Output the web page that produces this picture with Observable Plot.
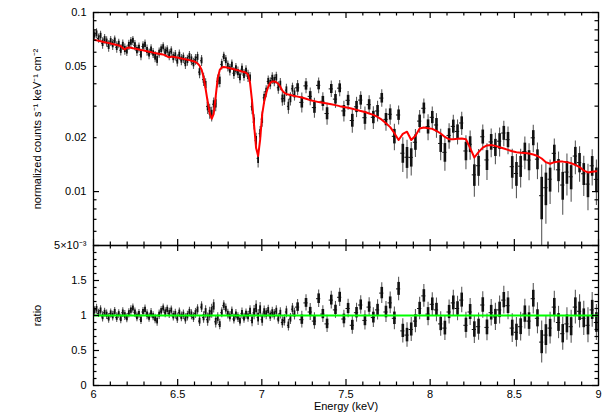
<!DOCTYPE html>
<html><head><meta charset="utf-8">
<script src="https://cdn.jsdelivr.net/npm/d3@7"></script>
<script src="https://cdn.jsdelivr.net/npm/@observablehq/plot@0.6"></script>
<style>
body{margin:0;background:#fff}
#wrap{position:relative;width:611px;height:414px}
#wrap svg{position:absolute;left:0;top:0}
</style>
</head><body><div id="wrap"></div>
<script>
// Energy grids (keV): fine bins 6.0-7.2, coarser bins 7.2-9.0
const energyA = d3.range(100).map(i => 6.006 + 0.012 * i);
const energyB = d3.range(72).map(j => 7.2125 + 0.025 * j);
const halfWidthA = 0.006, halfWidthB = 0.0125;

// Model (normalized counts s^-1 keV^-1 cm^-2)
const modelA = [0.0703,0.0699,0.0695,0.0691,0.0687,0.0683,0.0679,0.0675,0.0671,0.0667,
0.0663,0.0659,0.0655,0.0648,0.0632,0.0622,0.0634,0.0638,0.0636,0.0632,
0.0629,0.0625,0.0622,0.0618,0.0615,0.0611,0.0608,0.0604,0.0601,0.0597,
0.0594,0.0591,0.0588,0.0585,0.0582,0.0578,0.0568,0.0562,0.0566,0.0566,
0.0563,0.0560,0.0557,0.0554,0.0551,0.0548,0.0545,0.0542,0.0538,0.0534,
0.0529,0.0520,0.0505,0.0480,0.0435,0.0375,0.0318,0.0275,0.0255,0.0272,
0.0340,0.0430,0.0478,0.0493,0.0496,0.0494,0.0491,0.0488,0.0485,0.0482,
0.0479,0.0476,0.0472,0.0468,0.0465,0.0461,0.0450,0.0405,0.0320,0.0235,
0.0175,0.0158,0.0195,0.0270,0.0318,0.0355,0.0385,0.0405,0.0412,0.0412,
0.0408,0.0400,0.0385,0.0366,0.0356,0.0351,0.0348,0.0346,0.0344,0.0342];
const modelB = [0.0339,0.0335,0.0330,0.0324,0.0320,0.0316,0.0313,0.0310,0.0307,0.0304,
0.0300,0.0297,0.0294,0.0290,0.0286,0.0282,0.0278,0.0273,0.0268,0.0261,
0.0252,0.0241,0.0229,0.0212,0.0194,0.0210,0.0216,0.0194,0.0205,0.0225,
0.0228,0.0226,0.0224,0.0218,0.0211,0.0202,0.0196,0.0196,0.0197,0.0198,
0.0196,0.0175,0.0155,0.0166,0.0176,0.0181,0.0182,0.0180,0.0177,0.0174,
0.0171,0.0168,0.0166,0.0165,0.0164,0.0163,0.0161,0.0158,0.0153,0.0146,
0.0143,0.0146,0.0147,0.0147,0.0146,0.0144,0.0141,0.0137,0.0131,0.0128,
0.0129,0.0130];

// Data/model ratio
const ratioA = [1.06,1.09,1.03,1.07,0.98,1.04,1.01,0.96,1.03,0.99,
1.05,0.97,1.02,0.95,1.04,1.00,0.96,1.03,1.07,1.10,
1.04,0.98,1.02,0.94,1.05,1.08,1.01,0.97,1.03,0.99,
0.95,0.92,1.01,1.06,1.10,1.04,1.08,1.03,1.07,0.99,
1.02,0.96,1.04,0.98,1.01,0.95,0.99,1.05,1.01,0.97,
1.03,1.08,0.92,1.12,0.97,1.05,0.94,1.02,1.06,1.13,
0.91,0.96,0.87,1.04,1.14,1.09,1.02,0.98,1.05,0.95,
1.01,0.97,0.92,1.03,0.96,1.02,0.98,1.06,0.93,1.04,
1.10,0.97,1.08,0.94,1.05,1.02,1.07,0.99,1.04,1.01,
1.06,0.95,1.03,0.90,0.93,1.05,0.86,0.95,1.09,1.02];
const ratioB = [1.12,0.94,1.18,1.05,0.92,1.24,1.02,0.88,1.22,1.08,
1.26,0.95,1.10,0.86,1.04,1.15,0.93,1.12,0.97,1.08,
1.32,1.05,1.18,0.96,1.38,0.78,0.72,0.80,0.92,1.10,
1.28,1.02,1.16,1.08,0.88,0.82,1.05,1.18,1.10,1.22,
0.86,1.05,0.80,0.84,1.15,0.83,1.04,0.98,1.08,1.22,
1.14,0.82,0.76,0.84,1.02,0.92,1.24,0.96,0.62,0.72,
0.82,1.12,0.90,0.74,0.88,0.84,1.12,1.06,0.96,0.86,
1.08,0.90];

// 1-sigma error on the ratio
const errA = [0.065,0.07,0.06,0.068,0.072,0.062,0.067,0.07,0.064,0.069,
0.066,0.071,0.063,0.068,0.07,0.072,0.065,0.067,0.07,0.064,
0.068,0.071,0.066,0.07,0.065,0.069,0.072,0.067,0.07,0.064,
0.068,0.073,0.067,0.07,0.065,0.071,0.068,0.072,0.066,0.07,
0.069,0.073,0.067,0.071,0.068,0.074,0.07,0.067,0.072,0.069,
0.071,0.074,0.076,0.078,0.082,0.088,0.094,0.098,0.1,0.096,
0.088,0.08,0.075,0.072,0.07,0.073,0.071,0.074,0.07,0.072,
0.075,0.071,0.073,0.076,0.072,0.074,0.076,0.08,0.09,0.102,
0.11,0.112,0.105,0.092,0.085,0.08,0.078,0.076,0.077,0.075,
0.078,0.076,0.08,0.082,0.079,0.081,0.083,0.08,0.082,0.084];
const errB = [0.11,0.12,0.115,0.12,0.118,0.125,0.12,0.124,0.128,0.121,
0.13,0.125,0.132,0.129,0.135,0.131,0.138,0.134,0.14,0.144,
0.148,0.15,0.155,0.162,0.168,0.172,0.175,0.17,0.165,0.16,
0.162,0.168,0.165,0.17,0.175,0.178,0.172,0.18,0.175,0.182,
0.185,0.194,0.2,0.195,0.188,0.192,0.19,0.195,0.2,0.198,
0.202,0.206,0.21,0.205,0.212,0.215,0.218,0.222,0.3,0.27,
0.228,0.225,0.231,0.238,0.232,0.235,0.24,0.238,0.244,0.25,
0.248,0.256];

// Axis ticks and labels
const xMajor = [6, 6.5, 7, 7.5, 8, 8.5, 9];
const xMajorLabels = ["6", "6.5", "7", "7.5", "8", "8.5", "9"];
const xMinor = [6.1,6.2,6.3,6.4,6.6,6.7,6.8,6.9,7.1,7.2,7.3,7.4,7.6,7.7,7.8,7.9,8.1,8.2,8.3,8.4,8.6,8.7,8.8,8.9];
const topYMajor = [0.01, 0.1];
const topYMinor = [0.006,0.007,0.008,0.009,0.02,0.03,0.04,0.05,0.06,0.07,0.08,0.09];
const topYLabelValues = [0.005, 0.01, 0.02, 0.05, 0.1];
const topYLabels = ["5×10⁻³", "0.01", "0.02", "0.05", "0.1"];
const botYMajor = [0, 0.5, 1, 1.5, 2];
const botYMinor = [0.1,0.2,0.3,0.4,0.6,0.7,0.8,0.9,1.1,1.2,1.3,1.4,1.6,1.7,1.8,1.9];
const botYLabelValues = [0, 0.5, 1, 1.5];
const botYLabels = ["0", "0.5", "1", "1.5"];

const bins = [
  ...energyA.map((e, i) => ({e, lo: e - halfWidthA, hi: e + halfWidthA, m: modelA[i], r: ratioA[i], s: errA[i], w: 1.8})),
  ...energyB.map((e, j) => ({e, lo: e - halfWidthB, hi: e + halfWidthB, m: modelB[j], r: ratioB[j], s: errB[j], w: 2.6}))
];

const W = 611, H = 414, ML = 93, MR = 13;
const FW = W - ML - MR;
const topMT = 12, topMB = H - 245, botMT = 245, botMB = 29;
const topFH = H - topMT - topMB, botFH = H - botMT - botMB;
const plotStyle = {fontFamily: "'Liberation Sans', Arial, sans-serif", fontSize: "11px", background: "transparent", overflow: "visible", color: "#000"};
const tk = {stroke: "#000", strokeWidth: 1.2};

function frameTicks(yMaj, yMin, fh) {
  return [
    Plot.tickX(xMajor, {x: d => d, insetTop: fh - 6, ...tk}),
    Plot.tickX(xMajor, {x: d => d, insetBottom: fh - 6, ...tk}),
    Plot.tickX(xMinor, {x: d => d, insetTop: fh - 3.5, ...tk}),
    Plot.tickX(xMinor, {x: d => d, insetBottom: fh - 3.5, ...tk}),
    Plot.tickY(yMaj, {y: d => d, insetRight: FW - 6, ...tk}),
    Plot.tickY(yMaj, {y: d => d, insetLeft: FW - 6, ...tk}),
    Plot.tickY(yMin, {y: d => d, insetRight: FW - 3.5, ...tk}),
    Plot.tickY(yMin, {y: d => d, insetLeft: FW - 3.5, ...tk})
  ];
}

// error bars: thin grey whisker over full 1-sigma, dark thick core, horizontal bin bar
function dataMarks(val) {
  return [
    Plot.ruleX(bins, {x: "e", y1: d => val(d, -d.s), y2: d => val(d, d.s), stroke: "#5a5a5a", strokeWidth: 1.1, clip: true}),
    Plot.ruleX(bins, {x: "e", y1: d => val(d, -0.55 * d.s), y2: d => val(d, 0.55 * d.s), stroke: "#111", strokeWidth: d => d.w, clip: true}),
    Plot.ruleY(bins, {y: d => val(d, 0), x1: "lo", x2: "hi", stroke: "#111", strokeWidth: 1, clip: true})
  ];
}

const yLabelText = (vals, labels) => Plot.text(vals, {
  y: d => d, text: d => labels[vals.indexOf(d)], frameAnchor: "left", dx: -7,
  textAnchor: "end", lineAnchor: "middle", fontSize: 11, fill: "#000"
});

const spectrumPlot = Plot.plot({
  width: W, height: H, marginLeft: ML, marginRight: MR, marginTop: topMT, marginBottom: topMB,
  style: plotStyle,
  x: {domain: [6, 9], axis: null},
  y: {type: "log", domain: [0.005, 0.1], axis: null},
  marks: [
    ...dataMarks((d, k) => d.m * (d.r + k)),
    Plot.line(bins, {x: "e", y: "m", stroke: "#ff0000", strokeWidth: 2}),
    ...frameTicks(topYMajor, topYMinor, topFH),
    yLabelText(topYLabelValues, topYLabels),
    Plot.text(["normalized counts s⁻¹ keV⁻¹ cm⁻²"], {frameAnchor: "left", dx: -56, rotate: -90, textAnchor: "middle", lineAnchor: "middle", fontSize: 11, fill: "#000"}),
    Plot.frame({stroke: "#000", strokeWidth: 1.3})
  ]
});

const ratioPlot = Plot.plot({
  width: W, height: H, marginLeft: ML, marginRight: MR, marginTop: botMT, marginBottom: botMB,
  style: plotStyle,
  x: {domain: [6, 9], axis: null},
  y: {domain: [0, 2], axis: null},
  marks: [
    ...dataMarks((d, k) => d.r + k),
    Plot.ruleY([1], {stroke: "#00ff00", strokeWidth: 2}),
    ...frameTicks(botYMajor, botYMinor, botFH),
    Plot.text(xMajor, {x: d => d, text: d => xMajorLabels[xMajor.indexOf(d)], frameAnchor: "bottom", dy: 9, lineAnchor: "middle", fontSize: 11, fill: "#000"}),
    yLabelText(botYLabelValues, botYLabels),
    Plot.text(["ratio"], {frameAnchor: "left", dx: -56, rotate: -90, textAnchor: "middle", lineAnchor: "middle", fontSize: 11, fill: "#000"}),
    Plot.text(["Energy (keV)"], {frameAnchor: "bottom", dy: 21, textAnchor: "middle", lineAnchor: "middle", fontSize: 11, fill: "#000"}),
    Plot.frame({stroke: "#000", strokeWidth: 1.3})
  ]
});

const wrap = document.getElementById("wrap");
wrap.appendChild(spectrumPlot);
wrap.appendChild(ratioPlot);
</script>
</body></html>
